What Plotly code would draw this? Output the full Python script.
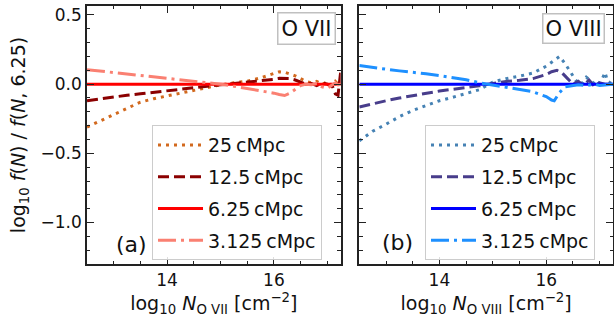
import plotly.graph_objects as go

# ---------------- data ----------------
labels = ["25\u2009cMpc", "12.5\u2009cMpc", "6.25\u2009cMpc", "3.125\u2009cMpc"]

# O VII panel
x7_25 = [12.5, 12.75, 13.0, 13.25, 13.5, 13.75, 14.0, 14.25, 14.5, 14.75, 15.0, 15.25, 15.5, 15.75,
         16.0, 16.1, 16.2, 16.3, 16.4, 16.5, 16.6, 16.7, 16.8, 16.9, 17.0, 17.1, 17.15, 17.2, 17.25]
y7_25 = [-0.31, -0.265, -0.22, -0.18, -0.13, -0.105, -0.085, -0.065, -0.043, -0.022, -0.005, 0.01, 0.022, 0.045,
         0.08, 0.09, 0.086, 0.075, 0.06, 0.04, 0.02, 0.01, 0.02, 0.0, 0.015, -0.01, 0.02, 0.0, 0.01]
x7_125 = [12.5, 12.75, 13.0, 13.25, 13.5, 13.75, 14.0, 14.25, 14.5, 14.75, 15.0, 15.25, 15.5, 15.75,
          16.0, 16.1, 16.2, 16.3, 16.4, 16.5, 16.6, 16.7, 16.8, 16.9, 17.0, 17.1, 17.15, 17.2, 17.25]
y7_125 = [-0.12, -0.105, -0.09, -0.08, -0.07, -0.058, -0.047, -0.035, -0.025, -0.015, -0.005, 0.005, 0.012, 0.02,
          0.035, 0.042, 0.043, 0.04, 0.03, 0.015, 0.0, 0.005, -0.01, 0.01, 0.0, -0.02, -0.07, -0.08, 0.09]
x7_625 = [12.5, 17.25]
y7_625 = [0.0, 0.0]
x7_3125 = [12.5, 12.75, 13.0, 13.25, 13.5, 13.75, 14.0, 14.25, 14.5, 14.75, 15.0, 15.25, 15.5, 15.75,
           16.0, 16.1, 16.2, 16.3, 16.4, 16.5, 16.6, 16.7, 16.8, 16.9, 17.0, 17.1, 17.15, 17.2, 17.25]
y7_3125 = [0.105, 0.095, 0.085, 0.075, 0.065, 0.055, 0.045, 0.035, 0.025, 0.015, 0.0, -0.015, -0.03, -0.046,
           -0.065, -0.075, -0.082, -0.065, -0.035, -0.01, 0.0, -0.005, 0.005, -0.02, -0.03, 0.0, 0.01, -0.005, 0.0]

# O VIII panel
x8_25 = [12.5, 12.75, 13.0, 13.25, 13.5, 13.75, 14.0, 14.25, 14.5, 14.75, 15.0, 15.25, 15.5, 15.75,
         16.0, 16.1, 16.2, 16.25, 16.35, 16.45, 16.55, 16.65, 16.75, 16.85, 16.95, 17.05, 17.1, 17.15, 17.25]
y8_25 = [-0.41, -0.34, -0.29, -0.235, -0.19, -0.155, -0.12, -0.095, -0.068, -0.04, 0.015, 0.04, 0.058, 0.08,
         0.13, 0.16, 0.19, 0.2, 0.15, 0.09, 0.03, -0.005, 0.05, 0.02, -0.01, 0.04, 0.085, 0.02, 0.0]
x8_125 = [12.5, 12.75, 13.0, 13.25, 13.5, 13.75, 14.0, 14.25, 14.5, 14.75, 15.0, 15.25, 15.5, 15.75,
          16.0, 16.1, 16.2, 16.3, 16.4, 16.5, 16.6, 16.7, 16.8, 16.9, 17.0, 17.1, 17.25]
y8_125 = [-0.165, -0.14, -0.12, -0.1, -0.082, -0.065, -0.05, -0.037, -0.026, -0.012, 0.005, 0.02, 0.028, 0.04,
          0.07, 0.09, 0.1, 0.08, 0.04, 0.0, 0.02, -0.01, 0.03, -0.015, 0.01, 0.0, 0.0]
x8_625 = [12.5, 17.25]
y8_625 = [0.0, 0.0]
x8_3125 = [12.5, 12.75, 13.0, 13.25, 13.5, 13.75, 14.0, 14.25, 14.5, 14.75, 15.0, 15.25, 15.5, 15.75,
           16.0, 16.1, 16.15, 16.25, 16.35, 16.5, 16.6, 16.75, 16.9, 17.0, 17.25]
y8_3125 = [0.135, 0.12, 0.108, 0.096, 0.087, 0.075, 0.062, 0.048, 0.032, 0.01, -0.005, -0.02, -0.035, -0.055,
           -0.09, -0.115, -0.12, -0.06, -0.02, -0.01, -0.005, -0.01, 0.0, -0.01, 0.0]

colors7 = ["#d2691e", "#8b0000", "#ff0000", "#fa8072"]
colors8 = ["#4682b4", "#483d8b", "#0000ff", "#1e90ff"]
dashes = ["3px,5px", "11px,5px", "solid", "18px,5px,3px,5px"]

series7 = [(x7_25, y7_25), (x7_125, y7_125), (x7_625, y7_625), (x7_3125, y7_3125)]
series8 = [(x8_25, y8_25), (x8_125, y8_125), (x8_625, y8_625), (x8_3125, y8_3125)]

FONT = "DejaVu Sans"
fig = go.Figure()
for i, (xs, ys) in enumerate(series7):
    fig.add_trace(go.Scatter(x=xs, y=ys, mode="lines", name=labels[i],
                             line=dict(color=colors7[i], width=3, dash=dashes[i]),
                             xaxis="x", yaxis="y", legend="legend", legendgroup="a%d" % i))
for i, (xs, ys) in enumerate(series8):
    fig.add_trace(go.Scatter(x=xs, y=ys, mode="lines", name=labels[i],
                             line=dict(color=colors8[i], width=3, dash=dashes[i]),
                             xaxis="x2", yaxis="y2", legend="legend2", legendgroup="b%d" % i))

axcol = "#222222"
tfont = dict(family=FONT, size=19, color="#111")
xcommon = dict(range=[12.5, 17.25], tick0=0, dtick=2, ticks="inside", ticklen=7, tickwidth=1.3,
               tickcolor=axcol, showline=True, linecolor=axcol, linewidth=1.5, mirror="allticks",
               showgrid=False, zeroline=False, automargin=False,
               minor=dict(tick0=0, dtick=0.5, ticks="inside", ticklen=3.5, tickwidth=1, tickcolor=axcol, showgrid=False),
               tickfont=dict(family=FONT, size=17, color="#111"))
ycommon = dict(range=[-1.3, 0.565], tick0=0, dtick=0.5, tickformat=".1f", ticks="inside", ticklen=7, tickwidth=1.3,
               tickcolor=axcol, showline=True, linecolor=axcol, linewidth=1.5, mirror="allticks",
               showgrid=False, zeroline=False, automargin=False,
               minor=dict(tick0=0, dtick=0.1, ticks="inside", ticklen=3.5, tickwidth=1, tickcolor=axcol, showgrid=False),
               tickfont=dict(family=FONT, size=17, color="#111"))

legend_common = dict(yanchor="top", xanchor="left", y=0.538, bgcolor="rgba(255,255,255,0.85)",
                     bordercolor="#cccccc", borderwidth=1, font=dict(family=FONT, size=19, color="#111"),
                     tracegroupgap=4, itemwidth=45)

fig.update_layout(
    width=614, height=322,
    margin=dict(l=87, r=1, t=6, b=58, autoexpand=False),
    paper_bgcolor="white", plot_bgcolor="white",
    font=dict(family=FONT, color="#111"),
    xaxis=dict(domain=[0, 0.4823], anchor="y", **xcommon,
               title=dict(text="log<sub>10</sub> <i>N</i><sub>O VII</sub> [cm<sup>\u22122</sup>]",
                          font=tfont, standoff=2)),
    xaxis2=dict(domain=[0.5177, 1], anchor="y2", **xcommon,
                title=dict(text="log<sub>10</sub> <i>N</i><sub>O VIII</sub> [cm<sup>\u22122</sup>]",
                           font=tfont, standoff=2)),
    yaxis=dict(anchor="x", **ycommon,
               title=dict(text="log<sub>10</sub> <i>f</i>(<i>N</i>) / <i>f</i>(<i>N</i>, 6.25)",
                          font=tfont, standoff=10)),
    yaxis2=dict(anchor="x2", matches="y", showticklabels=False, **ycommon),
    legend=dict(x=0.1236, **legend_common),
    legend2=dict(x=0.6426, **legend_common),
    showlegend=True,
)

box = dict(showarrow=False, xref="paper", yref="paper", bgcolor="white", bordercolor="#c0c0c0",
           borderwidth=1.5, borderpad=3, font=dict(family=FONT, size=21, color="#111"))
fig.add_annotation(text="O VII", x=0.4177, y=0.913, xanchor="center", yanchor="middle", **box)
fig.add_annotation(text="O VIII", x=0.9245, y=0.911, xanchor="center", yanchor="middle",
                   **{**box, "borderpad": 2})
fig.add_annotation(text="(a)", x=0.085, y=0.0775, xref="paper", yref="paper", showarrow=False,
                   xanchor="center", yanchor="middle", font=dict(family=FONT, size=22, color="#111"))
fig.add_annotation(text="(b)", x=0.5903, y=0.085, xref="paper", yref="paper", showarrow=False,
                   xanchor="center", yanchor="middle", font=dict(family=FONT, size=22, color="#111"))

fig.write_html("out.html", config={"displayModeBar": False},
               post_script="document.body.style.margin='0px';document.body.style.overflow='hidden';")
